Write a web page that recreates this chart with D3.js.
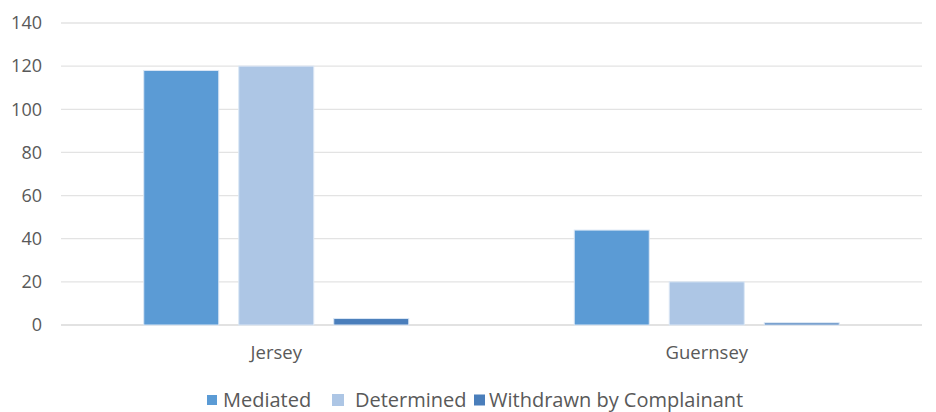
<!DOCTYPE html>
<html>
<head>
<meta charset="utf-8">
<script src="https://cdn.jsdelivr.net/npm/d3@7"></script>
<style>
  body { margin: 0; background: #fff; }
  text { font-family: "Open Sans", "Liberation Sans", sans-serif; fill: #595959; }
</style>
</head>
<body>
<svg id="chart"></svg>
<script>
const categories = ['Jersey', 'Guernsey'];
const seriesNames = ['Mediated', 'Determined', 'Withdrawn by Complainant'];
const mediated = [118, 44];
const determined = [120, 20];
const withdrawn = [3, 1];
const yTicks = [0, 20, 40, 60, 80, 100, 120, 140];
const colors = ['#5b9bd5', '#adc6e5', '#4a7ebb'];

const seriesValues = [mediated, determined, withdrawn];
const data = categories.map((c, i) => ({
    category: c,
    values: seriesNames.map((s, j) => ({ series: s, value: seriesValues[j][i] }))
}));

const config = { width: 936, height: 412, margin: { top: 23, right: 14, bottom: 87, left: 61 } };
const width = config.width - config.margin.left - config.margin.right;
const height = config.height - config.margin.top - config.margin.bottom;

const svg = d3.select('#chart')
    .attr('width', config.width)
    .attr('height', config.height);

const chart = svg.append('g')
    .attr('transform', `translate(${config.margin.left},${config.margin.top})`);

const x0 = d3.scaleBand().domain(categories).range([0, width]);
const x1 = d3.scaleBand().domain(seriesNames).range([0, x0.bandwidth()])
    .paddingInner(0.2105).paddingOuter(0.871);
const y = d3.scaleLinear().domain([0, 140]).range([height, 0]);
const color = d3.scaleOrdinal().domain(seriesNames).range(colors);

// gridlines
chart.append('g')
    .selectAll('line')
    .data(yTicks)
    .join('line')
    .attr('x1', 0).attr('x2', width)
    .attr('y1', d => y(d)).attr('y2', d => y(d))
    .attr('stroke', d => d === 0 ? '#d9d9d9' : '#e3e3e3')
    .attr('stroke-width', 1.3);

// y axis labels
const yAxis = d3.axisLeft(y).tickValues(yTicks).tickSize(0).tickPadding(19);
chart.append('g').call(yAxis)
    .call(g => g.select('.domain').remove())
    .selectAll('text')
    .style('font-size', '18px')
    .style('fill', '#595959');

// bars
const groups = chart.selectAll('.group')
    .data(data)
    .join('g')
    .attr('class', 'group')
    .attr('transform', d => `translate(${x0(d.category)},0)`);

groups.selectAll('rect')
    .data(d => d.values)
    .join('rect')
    .attr('x', d => x1(d.series))
    .attr('y', d => y(d.value))
    .attr('width', x1.bandwidth())
    .attr('height', d => height - y(d.value))
    .attr('fill', d => color(d.series))
    .attr('stroke', '#dbe7f5')
    .attr('stroke-width', 1);

// x axis labels
const xAxis = d3.axisBottom(x0).tickSize(0).tickPadding(21);
chart.append('g')
    .attr('transform', `translate(0,${height})`)
    .call(xAxis)
    .call(g => g.select('.domain').remove())
    .selectAll('text')
    .style('font-size', '18.5px')
    .style('fill', '#595959');

// legend
const legendItems = [
    { name: seriesNames[0], x: 207, size: 10, tx: 223 },
    { name: seriesNames[1], x: 332, size: 12, tx: 355 },
    { name: seriesNames[2], x: 474, size: 11, tx: 489 }
];
const legend = svg.append('g').attr('transform', 'translate(0,400)');
const li = legend.selectAll('g')
    .data(legendItems)
    .join('g');
li.append('rect')
    .attr('x', d => d.x)
    .attr('y', d => -d.size / 2)
    .attr('width', d => d.size).attr('height', d => d.size)
    .attr('fill', d => color(d.name));
li.append('text')
    .attr('x', d => d.tx)
    .attr('y', 0)
    .attr('dy', '0.35em')
    .style('font-size', '20px')
    .text(d => d.name);
</script>
</body>
</html>
